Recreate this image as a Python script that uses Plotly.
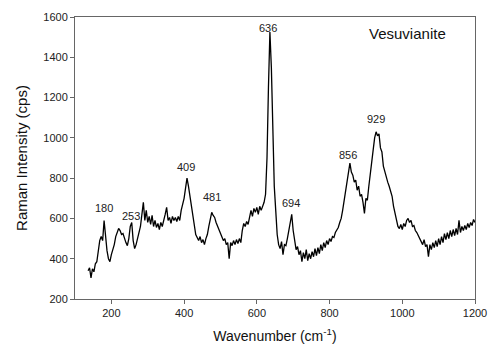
import plotly.graph_objects as go

# Raman spectrum of Vesuvianite (step 4 cm^-1 from 136 to 1200)
wavenumber = list(range(136, 1201, 4))
intensity = [
    340, 355, 305, 350, 335, 375, 385, 430, 490, 510,
    490, 590, 505, 440, 400, 385, 420, 445, 470, 510,
    530, 550, 540, 520, 525, 495, 480, 465, 500, 560,
    580, 490, 450, 470, 500, 525, 560, 620, 680, 590,
    640, 580, 610, 570, 615, 560, 590, 555, 575, 545,
    580, 560, 600, 620, 655, 590, 605, 575, 610, 590,
    605, 585, 610, 590, 640, 670, 700, 750, 800, 760,
    710, 650, 600, 545, 520, 505, 490, 510, 480, 495,
    470, 500, 520, 560, 600, 630, 615, 605, 580, 560,
    540, 520, 510, 490, 500, 470, 480, 400, 480, 465,
    490, 470, 495, 475, 500, 480, 540, 575, 560, 585,
    570, 615, 640, 610, 650, 630, 655, 620, 660, 640,
    665, 680, 720, 900, 1250, 1525, 1350, 1000, 760, 640,
    520, 470, 450, 485, 420, 470, 465, 500, 540, 600,
    620, 540, 480, 445, 460, 420, 440, 385, 430, 400,
    445, 390, 425, 400, 435, 410, 450, 415, 455, 425,
    470, 440, 480, 455, 490, 470, 500, 485, 510, 505,
    530, 540, 555, 580, 600, 640, 690, 735, 790, 820,
    875, 830, 815, 780, 790, 740, 760, 710, 720, 680,
    625, 700, 690, 760, 830, 880, 940, 1000, 1030, 1010,
    1020, 950, 930, 860, 830, 800, 780, 760, 730, 710,
    660, 620, 580, 560, 550, 570, 545, 575, 560, 590,
    600, 580, 590, 560, 565, 540, 530, 515, 500, 480,
    470, 495, 460, 470, 410, 470, 445, 480, 455, 490,
    460, 500, 470, 510, 480, 525, 495, 530, 500, 540,
    510, 545, 515, 550, 520, 590, 530, 560, 540, 565,
    545, 575, 555, 580, 565, 595, 580,
]

peak_labels = ["180", "253", "409", "481", "636", "694", "856", "929"]
peak_x = [179, 253, 405, 476, 632, 694, 850, 929]
peak_y = [653, 610, 853, 707, 1546, 677, 915, 1095]

x_ticks = [200, 400, 600, 800, 1000, 1200]
y_ticks = [200, 400, 600, 800, 1000, 1200, 1400, 1600]

font_family = "Liberation Sans, Arial, sans-serif"

fig = go.Figure()
fig.add_trace(go.Scatter(
    x=wavenumber, y=intensity, mode="lines",
    line=dict(color="black", width=1.3), showlegend=False,
))

for t, px, py in zip(peak_labels, peak_x, peak_y):
    fig.add_annotation(x=px, y=py, text=t, showarrow=False,
                       font=dict(size=11, color="#222", family=font_family))

fig.add_annotation(x=1013, y=1517, text="Vesuvianite", showarrow=False,
                   font=dict(size=15, color="#111", family=font_family))

axis_common = dict(
    showgrid=False, zeroline=False, showline=True, linecolor="#666",
    linewidth=1, mirror=True, ticks="outside", ticklen=4, tickcolor="#666",
    tickfont=dict(size=11, color="#222", family=font_family),
)

fig.update_xaxes(range=[100, 1200], tickvals=x_ticks,
                 title=dict(text="Wavenumber (cm<sup>-1</sup>)",
                            font=dict(size=14, color="#111", family=font_family),
                            standoff=12),
                 **axis_common)
fig.update_yaxes(range=[200, 1600], tickvals=y_ticks,
                 title=dict(text="Raman Intensity (cps)",
                            font=dict(size=15, color="#111", family=font_family),
                            standoff=12),
                 **axis_common)

fig.update_layout(
    width=498, height=357,
    margin=dict(l=75, r=20, t=11, b=58),
    paper_bgcolor="white", plot_bgcolor="white",
    font=dict(family=font_family),
)

fig.write_html("out.html")
